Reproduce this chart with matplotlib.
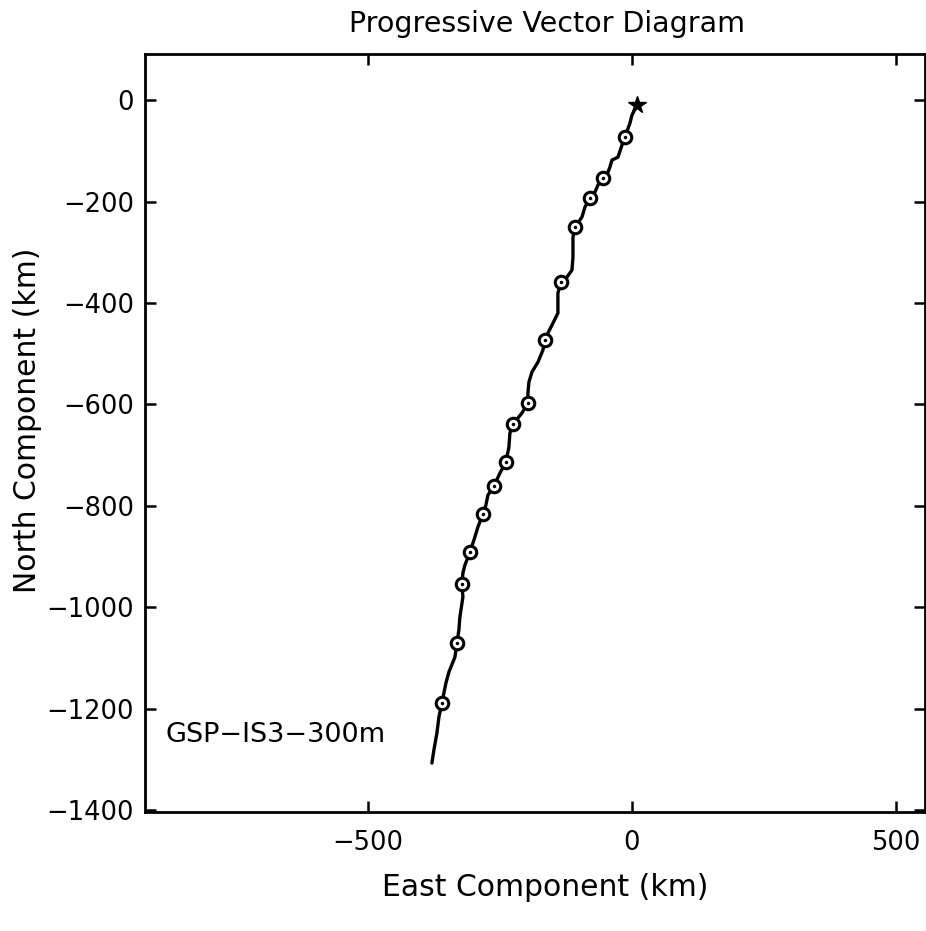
import matplotlib
matplotlib.use("Agg")
import matplotlib.pyplot as plt

# Traced path (km)
east = [9.5, 0, -3.8, -13.3, -18.9, -26.5, -37.9, -41.7, -45.5, -54.9, -64.4, -70.1,
        -79.5, -89, -94.7, -108, -111.7, -111.7, -113.6, -123.1, -134.5, -140.2,
        -140.2, -151.5, -161, -164.8, -168.6, -178, -189.4, -195.1, -197, -197,
        -208.3, -225.4, -231.1, -233, -238.6, -250, -261.4, -272.7, -276.5, -282.2,
        -291.7, -299.2, -306.8, -316.3, -320.1, -322, -320.1, -325.8, -327.7,
        -331.4, -335.2, -346.6, -352.3, -356.1, -359.8, -365.5, -369.3, -375, -378.8]
north = [-9.9, -29.6, -45.4, -73, -88.7, -112.4, -118.3, -132.1, -142, -153.8, -167.6,
         -181.4, -193.3, -211, -230.7, -250.4, -270.2, -309.6, -335.2, -349, -358.9,
         -380.6, -420, -443.7, -463.4, -473.3, -493, -516.7, -536.4, -556.1, -577.8,
         -597.5, -617.2, -638.9, -656.7, -684.3, -713.9, -735.6, -761.2, -779, -798.7,
         -816.4, -842, -867.7, -891.3, -917, -932.8, -954.4, -980, -1019.5, -1045.2,
         -1070.8, -1098.4, -1128, -1149.7, -1169.4, -1189.1, -1216.7, -1248.2,
         -1281.8, -1307.4]

# Marker positions (km)
mark_east = [-13.3, -54.9, -79.5, -108, -134.5, -164.8, -197, -225.4, -238.6, -261.4,
             -282.2, -306.8, -322, -331.4, -359.8]
mark_north = [-73, -153.8, -193.3, -250.4, -358.9, -473.3, -597.5, -638.9, -713.9,
              -761.2, -816.4, -891.3, -954.4, -1070.8, -1189.1]
start_east = [9.5]
start_north = [-9.9]

xticks = [-500, 0, 500]
yticks = [0, -200, -400, -600, -800, -1000, -1200, -1400]

fig = plt.figure(figsize=(9.26, 9.31), dpi=100)
ax = fig.add_axes([0.1566, 0.1278, 0.8424, 0.8142])

ax.plot(east, north, color="black", lw=2.4, solid_capstyle="round")
ax.plot(mark_east, mark_north, ls="none", marker="o", ms=9, mfc="white",
        mec="black", mew=2.2)
ax.plot(mark_east, mark_north, ls="none", marker=".", ms=3, color="black")
ax.plot(start_east, start_north, ls="none", marker="*", ms=13, color="black")

ax.set_xlim(-922, 555)
ax.set_ylim(-1404, 91)
ax.set_xticks(xticks)
ax.set_yticks(yticks)
ax.tick_params(direction="in", length=8, width=1.8, top=True, right=True,
               labelsize=18.5)
ax.tick_params(axis="x", pad=13)
ax.tick_params(axis="y", pad=8)
for s in ax.spines.values():
    s.set_linewidth(2)

ax.text(-884, -1252, "GSP\u2212IS3\u2212300m", fontsize=19.5, va="center", ha="left")

fig.text(547 / 926, 1 - 24 / 931, "Progressive Vector Diagram", fontsize=20.5,
         ha="center", va="center")
fig.text(545 / 926, 1 - 887 / 931, "East Component (km)", fontsize=21.5,
         ha="center", va="center")
fig.text(28 / 926, 1 - 420 / 931, "North Component (km)", fontsize=21.5,
         ha="center", va="center", rotation=90)

fig.savefig("out.png", dpi=100)
